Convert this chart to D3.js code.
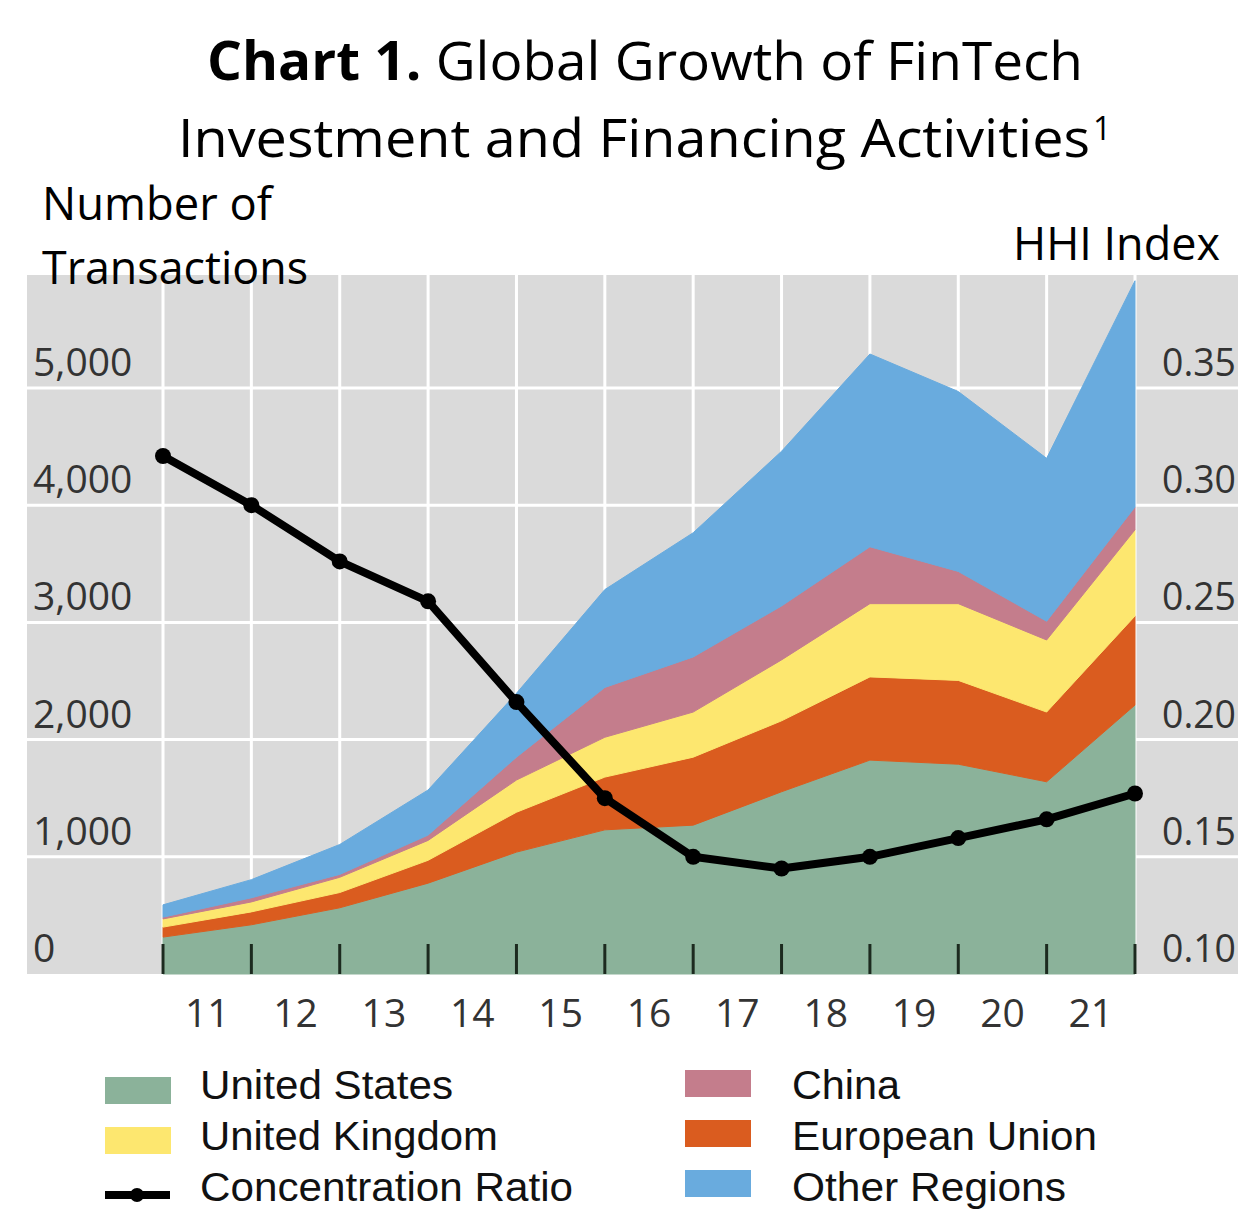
<!DOCTYPE html>
<html>
<head>
<meta charset="utf-8">
<script src="https://cdn.jsdelivr.net/npm/d3@7"></script>
<style>
  html, body { margin: 0; padding: 0; background: #ffffff; }
  svg { display: block; }
</style>
</head>
<body>
<svg id="chart" width="1238" height="1218"></svg>
<script>
// ---------- data ----------
const periods = [0, 1, 2, 3, 4, 5, 6, 7, 8, 9, 10, 11];
const yearLabels = ["11", "12", "13", "14", "15", "16", "17", "18", "19", "20", "21"];
const unitedStates = [315, 420, 565, 775, 1040, 1230, 1270, 1555, 1825, 1790, 1640, 2295];
const europeanUnion = [85, 110, 130, 195, 340, 450, 580, 605, 710, 715, 595, 760];
const unitedKingdom = [70, 85, 130, 170, 275, 340, 385, 520, 625, 655, 615, 735];
const china = [15, 35, 25, 45, 195, 425, 470, 460, 485, 275, 160, 195];
const otherRegions = [105, 155, 255, 385, 545, 835, 1060, 1320, 1645, 1535, 1390, 1930];
const concentrationRatio = [0.321, 0.300, 0.276, 0.259, 0.216, 0.175, 0.150, 0.145, 0.150, 0.158, 0.166, 0.177];
const leftTicks = [0, 1000, 2000, 3000, 4000, 5000];
const rightTicks = [0.10, 0.15, 0.20, 0.25, 0.30, 0.35];

const seriesKeys = ["us", "eu", "uk", "cn", "other"];
const seriesColors = { us: "#8bb29a", eu: "#da5c1f", uk: "#fde76f", cn: "#c47d8c", other: "#69abde" };

const table = periods.map((p, i) => ({
  p: p, us: unitedStates[i], eu: europeanUnion[i], uk: unitedKingdom[i], cn: china[i], other: otherRegions[i]
}));

// ---------- layout ----------
const svg = d3.select("#chart");
const plotLeft = 27, plotRight = 1238, plotTop = 275, plotBottom = 974;
const x = d3.scaleLinear().domain([0, 11]).range([163, 1135]);
const y = d3.scaleLinear().domain([0, 5000]).range([plotBottom, 388]);
const y2 = d3.scaleLinear().domain([0.10, 0.35]).range([plotBottom, 388]);

const titleFont = "'Open Sans', 'Noto Sans', sans-serif";
const axisFont = "'Open Sans', 'Noto Sans', sans-serif";
const legendFont = "'Liberation Sans', Arial, sans-serif";

// ---------- plot background + grid ----------
svg.append("rect").attr("x", plotLeft).attr("y", plotTop)
  .attr("width", plotRight - plotLeft).attr("height", plotBottom - plotTop)
  .attr("fill", "#dadada");

const grid = svg.append("g").attr("stroke", "#ffffff").attr("stroke-width", 3);
grid.selectAll("line.h").data(leftTicks.filter(d => d > 0)).join("line")
  .attr("x1", plotLeft).attr("x2", plotRight)
  .attr("y1", d => y(d)).attr("y2", d => y(d));
grid.selectAll("line.v").data(periods).join("line")
  .attr("x1", d => x(d)).attr("x2", d => x(d))
  .attr("y1", plotTop).attr("y2", plotBottom);

// ---------- titles ----------
const t1 = svg.append("text").attr("x", 207).attr("y", 80)
  .attr("font-family", titleFont).attr("font-size", 53).attr("fill", "#000")
  .attr("textLength", 876).attr("lengthAdjust", "spacingAndGlyphs");
t1.append("tspan").attr("font-weight", "bold").text("Chart 1.");
t1.append("tspan").text(" Global Growth of FinTech");

svg.append("text").attr("x", 178).attr("y", 157)
  .attr("font-family", titleFont).attr("font-size", 53).attr("fill", "#000")
  .attr("textLength", 912).attr("lengthAdjust", "spacingAndGlyphs")
  .text("Investment and Financing Activities");
svg.append("text").attr("x", 1093).attr("y", 140)
  .attr("font-family", titleFont).attr("font-size", 32).attr("fill", "#000")
  .text("1");

svg.append("text").attr("x", 42).attr("y", 220)
  .attr("font-family", titleFont).attr("font-size", 46).attr("fill", "#000")
  .attr("textLength", 230).attr("lengthAdjust", "spacingAndGlyphs")
  .text("Number of");
svg.append("text").attr("x", 42).attr("y", 284)
  .attr("font-family", titleFont).attr("font-size", 46).attr("fill", "#000")
  .attr("textLength", 266).attr("lengthAdjust", "spacingAndGlyphs")
  .text("Transactions");
svg.append("text").attr("x", 1013).attr("y", 260)
  .attr("font-family", titleFont).attr("font-size", 46).attr("fill", "#000")
  .attr("textLength", 207).attr("lengthAdjust", "spacingAndGlyphs")
  .text("HHI Index");

// ---------- stacked areas ----------
const stack = d3.stack().keys(seriesKeys);
const layers = stack(table);
const area = d3.area()
  .x(d => x(d.data.p))
  .y0(d => y(d[0]))
  .y1(d => y(d[1]));
svg.append("g").selectAll("path").data(layers).join("path")
  .attr("d", area)
  .attr("fill", d => seriesColors[d.key])
  .attr("stroke", d => seriesColors[d.key])
  .attr("stroke-width", 1);

// ---------- bottom ticks ----------
svg.append("g").selectAll("line").data(periods).join("line")
  .attr("x1", d => x(d)).attr("x2", d => x(d))
  .attr("y1", plotBottom - 30).attr("y2", plotBottom)
  .attr("stroke", "#1c2a1f").attr("stroke-width", 3);

// ---------- axis labels ----------
const fmt = d3.format(",");
svg.append("g").selectAll("text").data(leftTicks).join("text")
  .attr("x", 33).attr("y", d => y(d) - 12)
  .attr("font-family", axisFont).attr("font-size", 39).attr("fill", "#333")
  .text(d => fmt(d));

svg.append("g").selectAll("text").data(rightTicks).join("text")
  .attr("x", 1162).attr("y", d => y2(d) - 12)
  .attr("font-family", axisFont).attr("font-size", 38).attr("fill", "#333")
  .attr("textLength", 74).attr("lengthAdjust", "spacingAndGlyphs")
  .text(d => d.toFixed(2));

svg.append("g").selectAll("text").data(yearLabels).join("text")
  .attr("x", (d, i) => x(i + 0.5)).attr("y", 1027)
  .attr("text-anchor", "middle")
  .attr("font-family", axisFont).attr("font-size", 39).attr("fill", "#333")
  .text(d => d);

// ---------- concentration line ----------
const line = d3.line().x((d, i) => x(periods[i])).y(d => y2(d));
svg.append("path").datum(concentrationRatio)
  .attr("d", line).attr("fill", "none")
  .attr("stroke", "#000").attr("stroke-width", 8).attr("stroke-linejoin", "round");
svg.append("g").selectAll("circle").data(concentrationRatio).join("circle")
  .attr("cx", (d, i) => x(periods[i])).attr("cy", d => y2(d)).attr("r", 8)
  .attr("fill", "#000");

// ---------- legend ----------
const legendItems = [
  { label: "United States", key: "us", sx: 105, sy: 1077, tx: 200, ty: 1099, w: 253 },
  { label: "United Kingdom", key: "uk", sx: 105, sy: 1127, tx: 200, ty: 1150, w: 298 },
  { label: "Concentration Ratio", key: "line", sx: 105, sy: 1181, tx: 200, ty: 1201, w: 373 },
  { label: "China", key: "cn", sx: 685, sy: 1070, tx: 792, ty: 1099, w: 108 },
  { label: "European Union", key: "eu", sx: 685, sy: 1120, tx: 792, ty: 1150, w: 305 },
  { label: "Other Regions", key: "other", sx: 685, sy: 1170, tx: 792, ty: 1201, w: 274 }
];
const lg = svg.append("g");
legendItems.forEach(it => {
  if (it.key === "line") {
    lg.append("line").attr("x1", it.sx).attr("x2", it.sx + 65)
      .attr("y1", it.sy + 14).attr("y2", it.sy + 14)
      .attr("stroke", "#000").attr("stroke-width", 8);
    lg.append("circle").attr("cx", it.sx + 32).attr("cy", it.sy + 14).attr("r", 7).attr("fill", "#000");
  } else {
    lg.append("rect").attr("x", it.sx).attr("y", it.sy)
      .attr("width", 66).attr("height", 27).attr("fill", seriesColors[it.key]);
  }
  lg.append("text").attr("x", it.tx).attr("y", it.ty)
    .attr("font-family", legendFont).attr("font-size", 40).attr("fill", "#111")
    .attr("textLength", it.w).attr("lengthAdjust", "spacingAndGlyphs")
    .text(it.label);
});
</script>
</body>
</html>
